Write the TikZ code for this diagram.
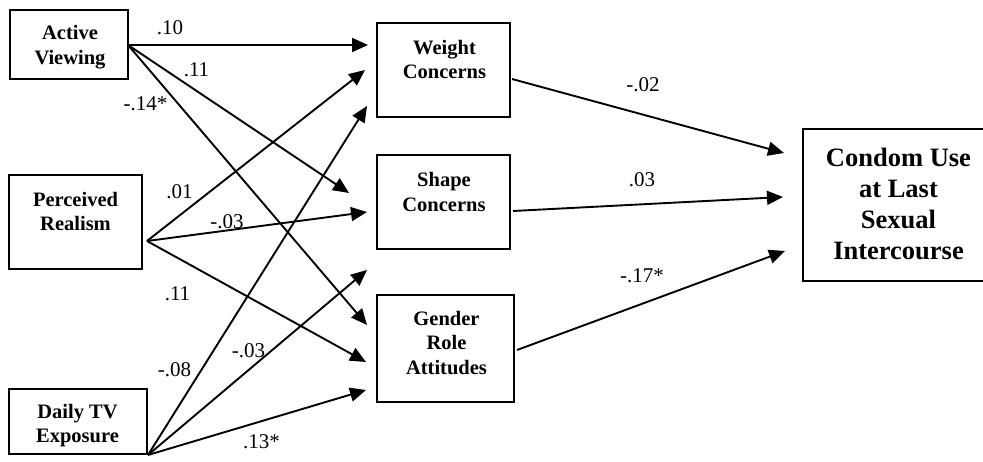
\documentclass[tikz,border=0pt]{standalone}
\usepackage{fontspec}
\setmainfont{Liberation Serif}
\usetikzlibrary{arrows.meta}
\begin{document}
\begin{tikzpicture}[x=1pt,y=-1pt,
  boxnode/.style={draw, line width=1.8pt, inner sep=0pt},
  btext/.style={font=\fontsize{20.5}{24.5}\selectfont\bfseries, align=center, inner sep=0pt},
  bigtext/.style={font=\fontsize{26.5}{31}\selectfont\bfseries, align=center, inner sep=0pt},
  lab/.style={font=\fontsize{21}{24}\selectfont, inner sep=0pt},
  arr/.style={line width=1.9pt, -{Triangle[length=16pt,width=14pt]}}]
\useasboundingbox (0,0) rectangle (983,462);
% boxes
\node[boxnode, minimum width=118pt, minimum height=69pt] (av) at (69,44.5) {};
\node[boxnode, minimum width=133pt, minimum height=94pt] (pr) at (75.5,222) {};
\node[boxnode, minimum width=138pt, minimum height=65pt] (dtv) at (78,421.5) {};
\node[boxnode, minimum width=133pt, minimum height=94pt] (wc) at (443.5,70) {};
\node[boxnode, minimum width=133pt, minimum height=94pt] (sc) at (443.5,202) {};
\node[boxnode, minimum width=137pt, minimum height=107pt] (gr) at (445.5,348.5) {};
\node[boxnode, minimum width=191pt, minimum height=152pt] (cu) at (898.5,205) {};
% box texts
\node[btext] (avt) at (70,47) {Active\\Viewing};
\node[btext] (prt) at (75.5,211.5) {Perceived\\Realism};
\node[btext] (dtvt) at (77.5,425.5) {Daily TV\\Exposure};
\node[btext] (wct) at (444.5,59.5) {Weight\\Concerns};
\node[btext] (sct) at (444,192) {Shape\\Concerns};
\node[btext] (grt) at (446.5,343) {Gender\\Role\\Attitudes};
\node[bigtext] (cut) at (898.5,203.5) {Condom Use\\at Last\\Sexual\\Intercourse};
% connector ends
\coordinate (avo) at (128,45);
\coordinate (pro) at (147,241);
\coordinate (dtvo) at (148,455);
\coordinate (wco) at (512,79);
\coordinate (sco) at (513,211);
\coordinate (gro) at (517,350);
\coordinate (wc1) at (368,45);
\coordinate (wc2) at (365,70);
\coordinate (wc3) at (367,106);
\coordinate (sc1) at (349,193);
\coordinate (sc2) at (367,212);
\coordinate (sc3) at (367,270);
\coordinate (gr1) at (367,325);
\coordinate (gr2) at (366,362);
\coordinate (gr3) at (366,390);
\coordinate (cu1) at (784,153);
\coordinate (cu2) at (783,197);
\coordinate (cu3) at (785,251);
% connectors
\draw[arr] (avo) -- (wc1);
\draw[arr] (avo) -- (sc1);
\draw[arr] (avo) -- (gr1);
\draw[arr] (pro) -- (wc2);
\draw[arr] (pro) -- (sc2);
\draw[arr] (pro) -- (gr2);
\draw[arr] (dtvo) -- (wc3);
\draw[arr] (dtvo) -- (sc3);
\draw[arr] (dtvo) -- (gr3);
\draw[arr] (wco) -- (cu1);
\draw[arr] (sco) -- (cu2);
\draw[arr] (gro) -- (cu3);
% labels
\node[lab] (l1) at (170,27.5) {.10};
\node[lab] (l2) at (196.5,69.5) {.11};
\node[lab] (l3) at (145.5,103.5) {-.14*};
\node[lab] (l4) at (179.5,192) {.01};
\node[lab] (l5) at (227,221.5) {-.03};
\node[lab] (l6) at (177.5,293.5) {.11};
\node[lab] (l7) at (174.5,370) {-.08};
\node[lab] (l8) at (248.5,350.5) {-.03};
\node[lab] (l9) at (261.5,441.5) {.13*};
\node[lab] (l10) at (643,85) {-.02};
\node[lab] (l11) at (642,180) {.03};
\node[lab] (l12) at (642,275.5) {-.17*};
\end{tikzpicture}
\end{document}
